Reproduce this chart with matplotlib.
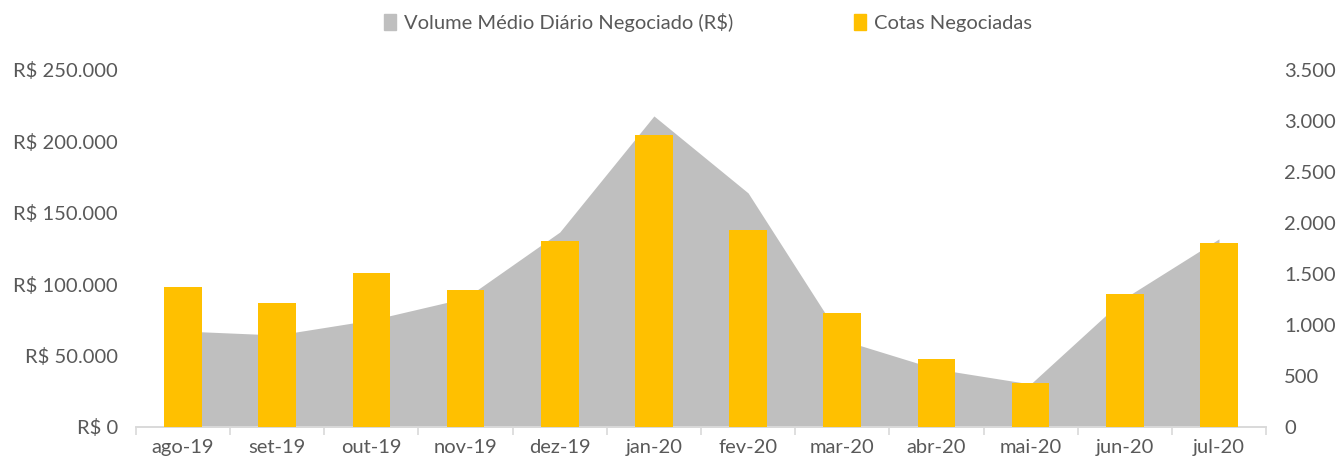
import matplotlib.pyplot as plt
from matplotlib.patches import Patch
from matplotlib.ticker import FuncFormatter
import numpy as np

# --- Donnees ---
meses = ['ago-19', 'set-19', 'out-19', 'nov-19', 'dez-19', 'jan-20',
         'fev-20', 'mar-20', 'abr-20', 'mai-20', 'jun-20', 'jul-20']
volume_medio = [67200, 64400, 74900, 90300, 136500, 217800,
                163900, 60900, 40600, 30100, 90300, 131700]
cotas = [1370, 1220, 1510, 1340, 1824, 2863,
         1931, 1115, 664, 435, 1304, 1801]

cinza = '#BFBFBF'
amarelo = '#FFC000'
texto = '#595959'

plt.rcParams['font.family'] = ['Lato', 'DejaVu Sans']
plt.rcParams['font.size'] = 14.5

fig = plt.figure(figsize=(13.41, 4.67), dpi=100)
ax1 = fig.add_axes([0.1014, 0.0857, 0.8427, 0.7645])
ax2 = ax1.twinx()

x = np.arange(len(meses))

# Area (volume medio) sur l'axe gauche
ax1.fill_between(x, 0, volume_medio, color=cinza, linewidth=0)
ax1.set_ylim(0, 250000)
ax1.set_xlim(-0.5, len(meses) - 0.5)
ax1.set_yticks(np.arange(0, 250001, 50000))

def reais(v, pos):
    return 'R$ ' + f'{int(v):,}'.replace(',', '.')

ax1.yaxis.set_major_formatter(FuncFormatter(reais))

# Barres (cotas) sur l'axe droit
ax2.bar(x, cotas, width=0.4, color=amarelo, zorder=3)
ax2.set_ylim(0, 3500)
ax2.set_yticks(np.arange(0, 3501, 500))
ax2.yaxis.set_major_formatter(FuncFormatter(lambda v, p: f'{int(v):,}'.replace(',', '.')))

# Axe x : ticks entre les categories
ax1.set_xticks(x)
ax1.set_xticklabels(meses, color=texto)
ax1.set_xticks(np.arange(-0.5, len(meses)), minor=True)
ax1.tick_params(axis='x', which='major', length=0, pad=9)
ax1.tick_params(axis='x', which='minor', length=6, color='#D9D9D9', width=1.2)

for ax in (ax1, ax2):
    for s in ['top', 'left', 'right']:
        ax.spines[s].set_visible(False)
    ax.spines['bottom'].set_color('#D9D9D9')
    ax.spines['bottom'].set_linewidth(1.2)
    ax.tick_params(axis='y', length=0, colors=texto)

ax1.tick_params(axis='y', pad=13)
ax2.tick_params(axis='y', pad=13)

# Legende
handles = [Patch(color=cinza, label='Volume Médio Diário Negociado (R$)'),
           Patch(color=amarelo, label='Cotas Negociadas')]
fig.legend(handles=handles, loc='center', bbox_to_anchor=(0.528, 0.952), ncol=2,
           frameon=False, handlelength=0.6, handleheight=0.9, handletextpad=0.4,
           columnspacing=6, labelcolor=texto)

fig.savefig('out.png', dpi=100)
